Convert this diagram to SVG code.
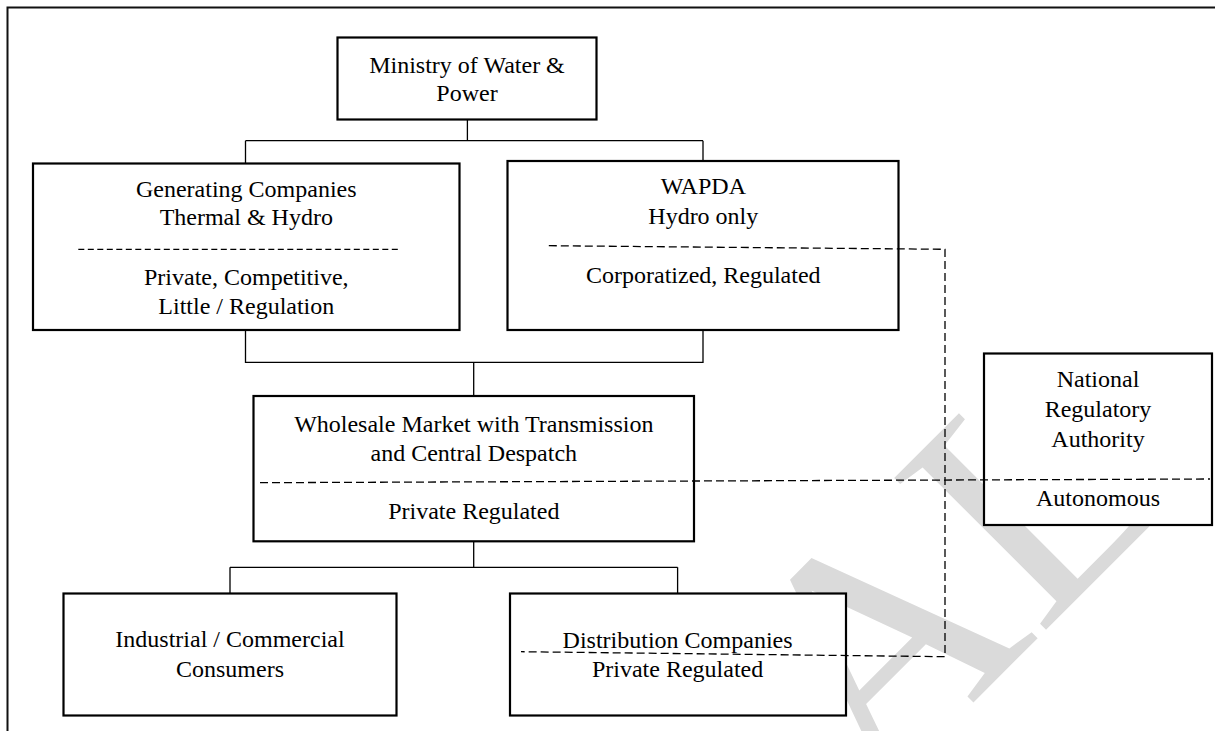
<svg xmlns="http://www.w3.org/2000/svg" width="1215" height="731" viewBox="0 0 1215 731">
<style>
.box{fill:#fff;stroke:#000;stroke-width:2.2}
.t{font-family:"Liberation Serif","Times New Roman",serif;font-size:24px;fill:#000;text-anchor:middle}
.con{fill:none;stroke:#000;stroke-width:1.3}
.dash{fill:none;stroke:#000;stroke-width:1.3;stroke-dasharray:8 4}
.dashf{fill:none;stroke:#000;stroke-width:1.2;stroke-dasharray:6 3.5}
.wm{font-family:"Liberation Serif","Times New Roman",serif;font-size:328px;fill:#dadada}
</style>
<rect x="0" y="0" width="1215" height="731" fill="#fff"/>
<g id="frame"><path d="M7.5 731 V7.5 H1215" fill="none" stroke="#111" stroke-width="2"/></g>
<g id="watermark"><text class="wm" transform="rotate(-45)" x="48" y="1185">AL</text></g>
<g id="connectors">
<path class="con" d="M467.4 119.5 V140.7 M245.5 140.7 H703 M245.5 140.7 V163.5 M703 140.7 V161"/>
<path class="con" d="M245.5 330 V362.3 H703 V330 M473.7 362.3 V396"/>
<path class="con" d="M473.7 541.3 V567.3 M230 567.3 H677.6 M230 567.3 V593.5 M677.6 567.3 V593.5"/>
</g>
<g id="ministry"><rect class="box" x="337.5" y="37.5" width="259" height="82"/>
<text class="t" x="467" y="73">Ministry of Water &amp;</text>
<text class="t" x="467" y="101">Power</text></g>
<g id="generating"><rect class="box" x="33" y="163.5" width="426.5" height="166.5"/>
<text class="t" x="246.3" y="196.7">Generating Companies</text>
<text class="t" x="246.3" y="225.3">Thermal &amp; Hydro</text>
<line class="dashf" x1="78.3" y1="249.3" x2="400.7" y2="249.3"/>
<text class="t" x="246.3" y="285">Private, Competitive,</text>
<text class="t" x="246.3" y="314">Little / Regulation</text></g>
<g id="wapda"><rect class="box" x="507.5" y="161" width="391" height="169"/>
<text class="t" x="703.3" y="194.3">WAPDA</text>
<text class="t" x="703.3" y="224">Hydro only</text>
<text class="t" x="703.3" y="283.3">Corporatized, Regulated</text></g>
<g id="wholesale"><rect class="box" x="253.5" y="396" width="440.5" height="145.3"/>
<text class="t" x="473.8" y="431.7">Wholesale Market with Transmission</text>
<text class="t" x="473.8" y="460.7">and Central Despatch</text>
<text class="t" x="473.8" y="519.3">Private Regulated</text></g>
<g id="industrial"><rect class="box" x="63.5" y="593.5" width="333" height="122"/>
<text class="t" x="230" y="647.3">Industrial / Commercial</text>
<text class="t" x="230" y="676.7">Consumers</text></g>
<g id="distribution"><rect class="box" x="510" y="593.5" width="336" height="122"/>
<text class="t" x="677.6" y="647.5">Distribution Companies</text>
<text class="t" x="677.6" y="676.7">Private Regulated</text></g>
<g id="nra"><rect class="box" x="984" y="353.5" width="228" height="171.5"/>
<text class="t" x="1098" y="387.3">National</text>
<text class="t" x="1098" y="417.3">Regulatory</text>
<text class="t" x="1098" y="446.7">Authority</text>
<text class="t" x="1098" y="505.7">Autonomous</text></g>
<g id="regulatory-links">
<path class="dash" d="M548.8 245.7 L945 249.3 V656.7 L521 651.7"/>
<path class="dash" d="M260 482.7 L1210 479"/>
</g>
</svg>
